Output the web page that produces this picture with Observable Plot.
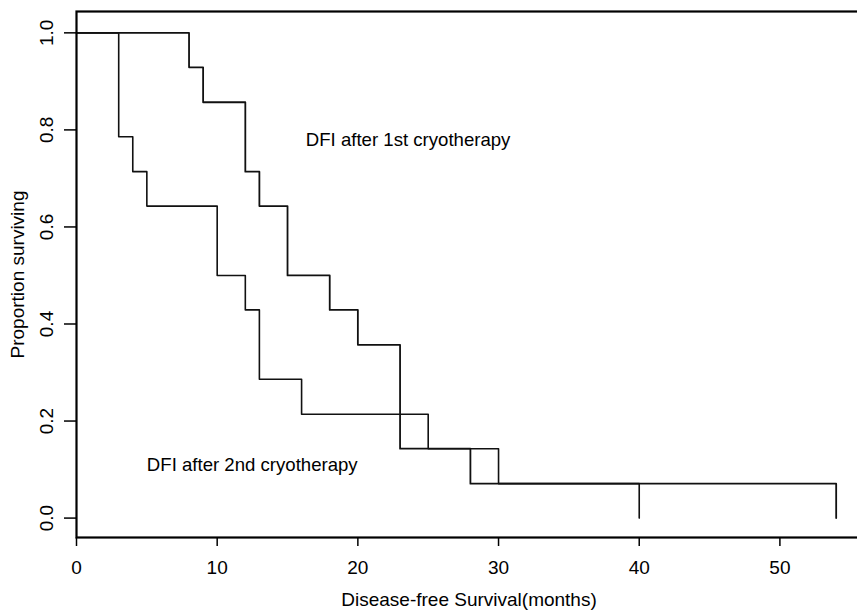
<!DOCTYPE html>
<html>
<head>
<meta charset="utf-8">
<script src="https://cdn.jsdelivr.net/npm/d3@7"></script>
<script src="https://cdn.jsdelivr.net/npm/@observablehq/plot@0.6"></script>
<style>
  html, body { margin: 0; padding: 0; background: #ffffff; }
  #chart svg { display: block; }
</style>
</head>
<body>
<div id="chart"></div>
<script>
// Kaplan–Meier estimates of disease-free interval (months)
const monthTicks = [0, 10, 20, 30, 40, 50];
const propTicks = [0, 0.2, 0.4, 0.6, 0.8, 1.0];

// After 1st cryotherapy
const firstTimes = [0, 8, 9, 12, 13, 15, 18, 20, 23, 28, 54];
const firstSurv  = [1, 0.929, 0.857, 0.714, 0.643, 0.5, 0.429, 0.357, 0.143, 0.071, 0];

// After 2nd cryotherapy
const secondTimes = [0, 3, 4, 5, 10, 12, 13, 16, 25, 30, 40];
const secondSurv  = [1, 0.786, 0.714, 0.643, 0.5, 0.429, 0.286, 0.214, 0.143, 0.071, 0];

// Curve labels
const labelNames = ["DFI after 1st cryotherapy", "DFI after 2nd cryotherapy"];
const labelX = [16.3, 5.0];
const labelY = [0.78, 0.11];

const first = firstTimes.map((t, i) => ({t, s: firstSurv[i]}));
const second = secondTimes.map((t, i) => ({t, s: secondSurv[i]}));
const labels = labelNames.map((name, i) => ({name, x: labelX[i], y: labelY[i]}));

const chart = Plot.plot({
  width: 857,
  height: 611,
  marginLeft: 76,
  marginRight: -4,
  marginTop: 11,
  marginBottom: 74,
  style: {fontFamily: "'Liberation Sans', Arial, sans-serif", fontSize: "18.6px", color: "#000", background: "#fff"},
  x: {domain: [0, 55.8]},
  y: {domain: [-0.04, 1.044]},
  marks: [
    Plot.axisX(monthTicks, {
      tickSize: 9, tickPadding: 14, strokeWidth: 1.5, fontSize: 19,
      label: "Disease-free Survival(months)", labelAnchor: "center", labelArrow: "none", labelOffset: 68
    }),
    Plot.axisY(propTicks, {
      tickSize: 12, tickPadding: 12, strokeWidth: 1.5, tickRotate: -90, fontSize: 19,
      tickFormat: d => d.toFixed(1),
      label: "Proportion surviving", labelAnchor: "center", labelArrow: "none", labelOffset: 66
    }),
    Plot.line(first, {x: "t", y: "s", curve: "step-after", stroke: "#111", strokeWidth: 1.8}),
    Plot.line(second, {x: "t", y: "s", curve: "step-after", stroke: "#111", strokeWidth: 1.6}),
    Plot.text(labels, {x: "x", y: "y", text: "name", textAnchor: "start", fontSize: 18.6, fill: "#000"}),
    Plot.frame({stroke: "#000", strokeWidth: 2.2})
  ]
});

document.getElementById("chart").appendChild(chart);
</script>
</body>
</html>
